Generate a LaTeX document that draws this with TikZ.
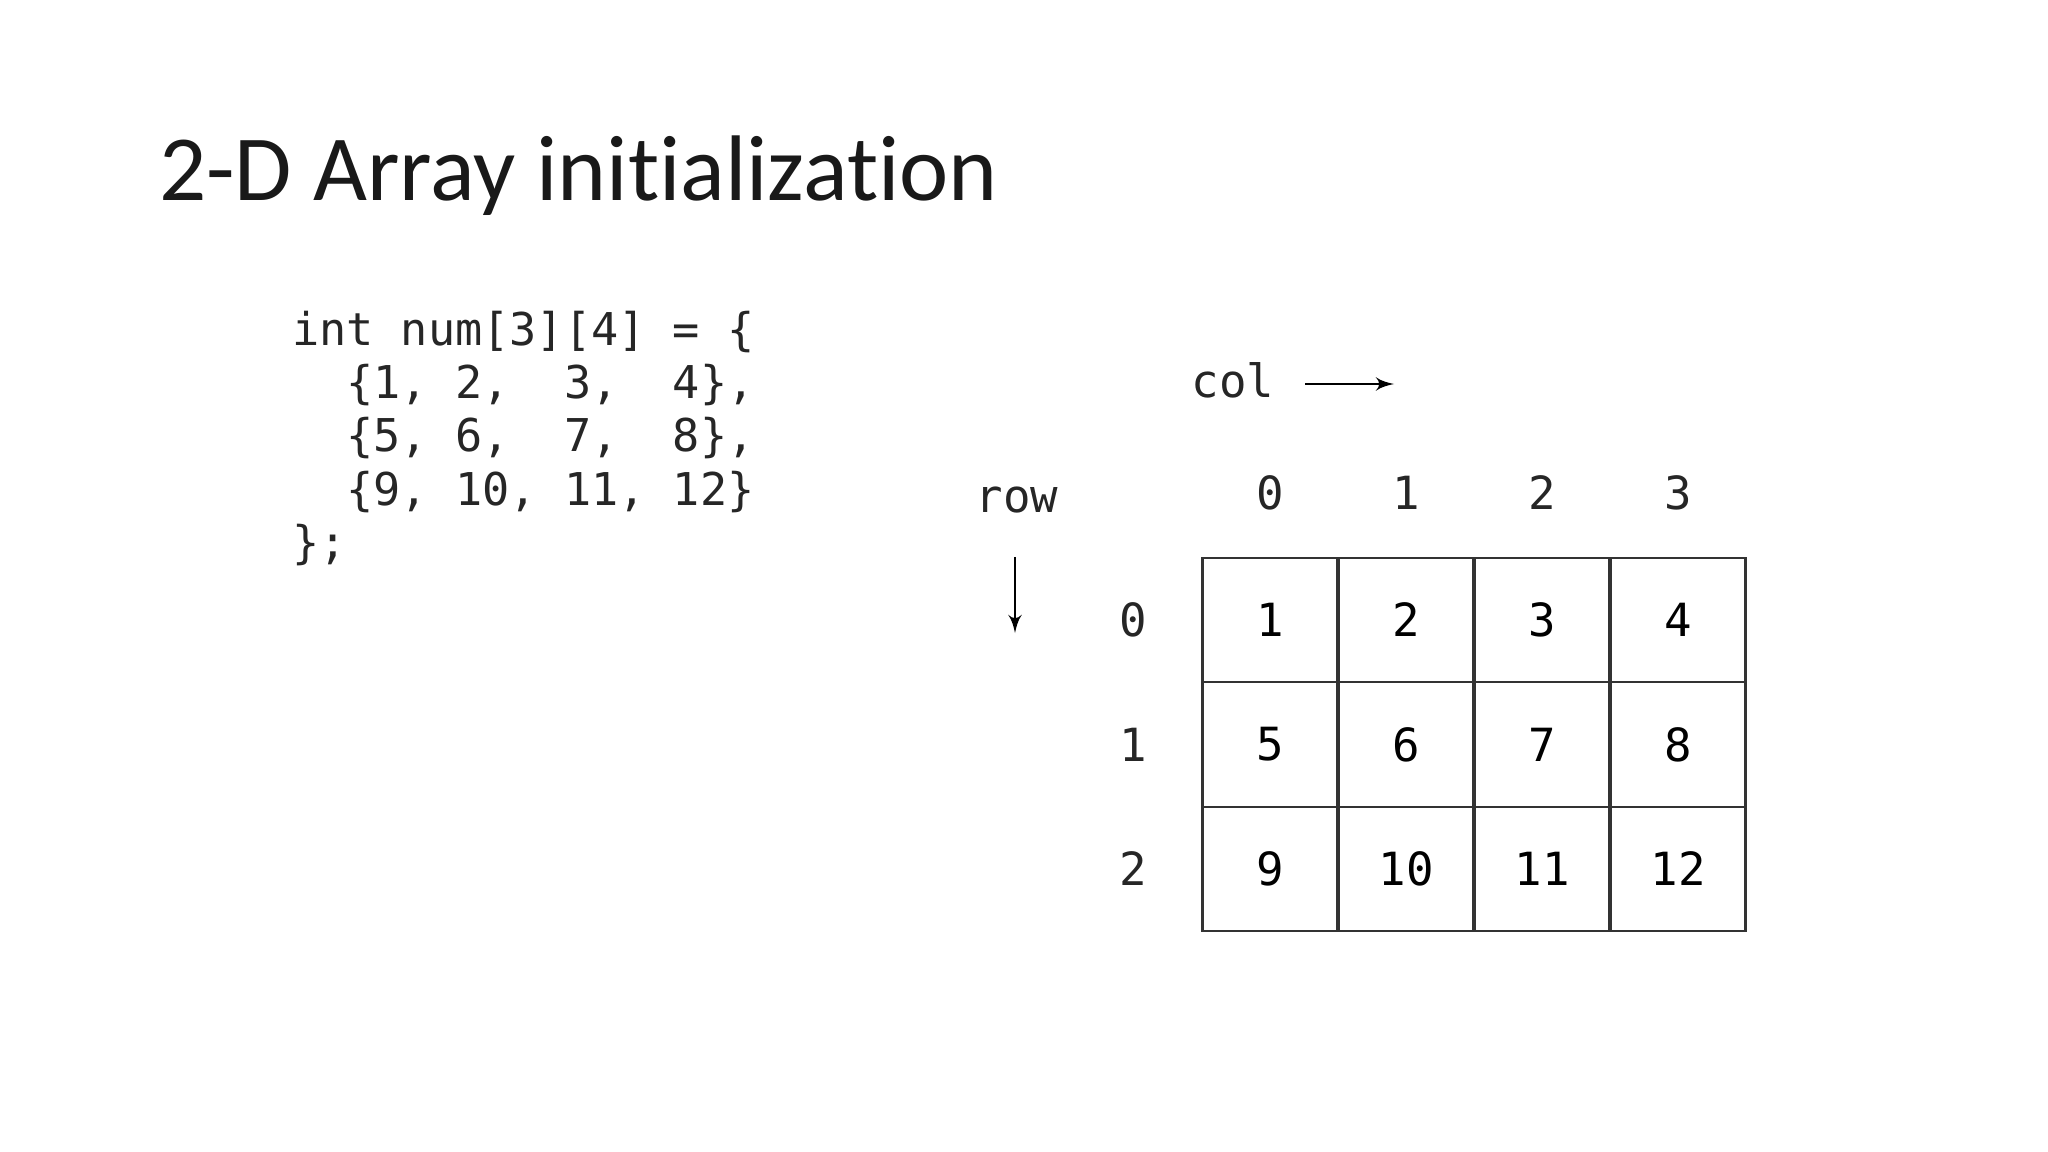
\documentclass[tikz,border=0pt]{standalone}
\usepackage{fontspec}
\setmainfont{Carlito}[Ligatures=NoCommon]
\setmonofont{DejaVu Sans Mono}
\usetikzlibrary{arrows,positioning}
\begin{document}
\begin{tikzpicture}[x=0.01cm,y=-0.01cm,>=latex',semithick]
  \tikzstyle{every node}=[inner sep=0pt]
  \tikzstyle{code}=[anchor=base west,font=\fontsize{12.85}{15}\ttfamily,text=black!85]
  \tikzstyle{cell}=[draw=black!80,minimum width=135*0.01cm,minimum height=124.5*0.01cm,font=\fontsize{13}{15}\ttfamily]
  \tikzstyle{lab}=[font=\fontsize{13}{15}\ttfamily,text=black!85]
  \useasboundingbox (0,0) rectangle (2048,1152);

  \node[anchor=base west,font=\fontsize{26.5}{32}\selectfont,text=black!90] (title) at (158,201) {2-D Array initialization};

  % the code
  \node[code] (l1) at (291,346) {int num[3][4] = \{};
  \node[code] (l2) at (291,399) {\ \ \{1, 2,\ \ 3,\ \ 4\},};
  \node[code] (l3) at (291,452) {\ \ \{5, 6,\ \ 7,\ \ 8\},};
  \node[code] (l4) at (291,505) {\ \ \{9, 10, 11, 12\}};
  \node[code] (l5) at (291,558) {\};};

  % the grid
  \foreach \r in {0,1,2}{
    \node[lab] (r\r) at (1133,{620+124.5*\r}) {\r};
    \foreach \c in {0,1,2,3}{
      \pgfmathtruncatemacro{\v}{4*\r+\c+1}
      \node[cell] (c\r\c) at ({1283+136*\c-13},{620+124.5*\r}) {\v};
    }
  }
  \foreach \c in {0,1,2,3}
    \node[lab] (h\c) at ({1270+136*\c},493) {\c};

  \node[lab] (col) at (1233,380) {col};
  \coordinate (colA) at (1305,384);
  \coordinate (colB) at (1394,384);
  \draw[->,thick] (colA) -- (colB);

  \node[lab] (row) at (1017,500) {row};
  \coordinate (rowA) at (1015,557);
  \coordinate (rowB) at (1015,633);
  \draw[->,thick] (rowA) -- (rowB);
\end{tikzpicture}
\end{document}
